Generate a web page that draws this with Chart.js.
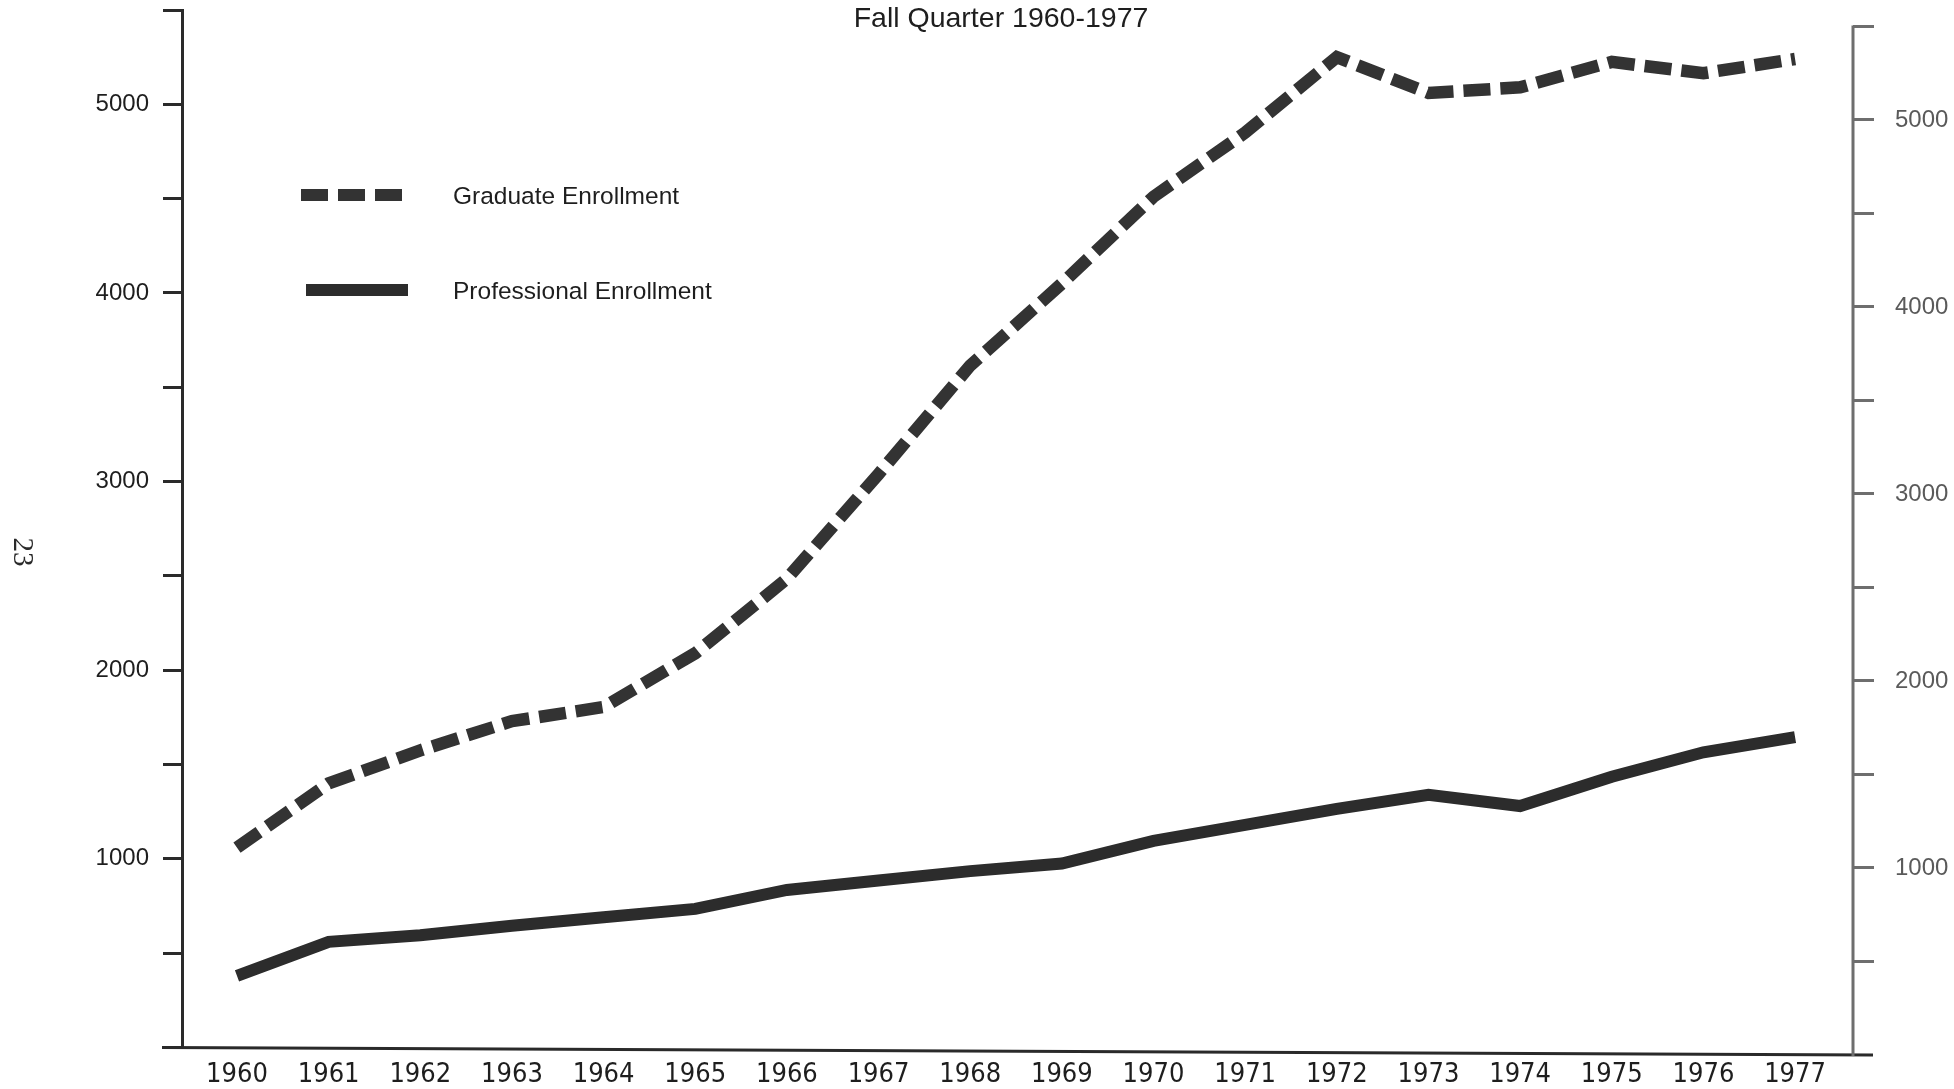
<!DOCTYPE html>
<html>
<head>
<meta charset="utf-8">
<script src="https://cdn.jsdelivr.net/npm/chart.js@4.4.1/dist/chart.umd.min.js"></script>
<style>
html,body{margin:0;padding:0;background:#fff;}
#wrap{position:relative;width:1954px;height:1089px;}
canvas{display:block;}
</style>
</head>
<body>
<div id="wrap"><canvas id="c" width="1954" height="1089"></canvas></div>
<script>
// ---- data ----
const years = [1960,1961,1962,1963,1964,1965,1966,1967,1968,1969,1970,1971,1972,1973,1974,1975,1976,1977];
const yearLabels = ['1960','1961','1962','1963','1964','1965','1966','1967','1968','1969','1970','1971','1972','1973','1974','1975','1976','1977'];
const graduateEnrollment = [1060,1400,1575,1730,1805,2090,2485,3040,3615,4050,4510,4850,5250,5060,5090,5225,5165,5240];
const professionalEnrollment = [380,560,595,645,690,735,835,885,935,975,1095,1180,1265,1340,1280,1435,1565,1645];
const seriesNames = ['Graduate Enrollment','Professional Enrollment'];
const leftTickValues = [0,500,1000,1500,2000,2500,3000,3500,4000,4500,5000,5500];
const leftTickLabels = ['','','1000','','2000','','3000','','4000','','5000',''];
const rightTickValues = [500,1000,1500,2000,2500,3000,3500,4000,4500,5000,5500];
const rightTickLabels = ['','1000','','2000','','3000','','4000','','5000',''];
const chartTitle = 'Fall Quarter 1960-1977';
const pageNumber = '23';

const SANS = "'Liberation Sans', Arial, sans-serif";
const NARROW = "'Liberation Sans Narrow', 'DejaVu Sans Condensed', 'Liberation Sans', sans-serif";

const zeroPad = s => { s.paddingTop = 0; s.paddingBottom = 0; s.paddingLeft = 0; s.paddingRight = 0; };

const decor = {
  id: 'decor',
  afterDraw(chart) {
    const ctx = chart.ctx;
    const ca = chart.chartArea;
    const yL = chart.scales.y, yR = chart.scales.y2;
    ctx.save();
    // bottom axis line (slightly skewed like the scan)
    ctx.strokeStyle = '#2a2a2a';
    ctx.lineWidth = 3;
    ctx.beginPath();
    ctx.moveTo(ca.left - 20, yL.getPixelForValue(0));
    ctx.lineTo(ca.right + 20, yR.getPixelForValue(0));
    ctx.stroke();
    // right axis line
    ctx.strokeStyle = '#6e6e6e';
    ctx.beginPath();
    ctx.moveTo(ca.right, yR.getPixelForValue(5500) - 1);
    ctx.lineTo(ca.right, yR.getPixelForValue(0) + 1);
    ctx.stroke();
    // title
    ctx.fillStyle = '#1e1e1e';
    ctx.font = "28.5px " + SANS;
    ctx.textAlign = 'center';
    ctx.textBaseline = 'middle';
    ctx.fillText(chartTitle, 1001, 19);
    // legend
    const ds = chart.data.datasets;
    const rows = [{y:195, x0:301, x1:405}, {y:290, x0:306, x1:408}];
    rows.forEach((r, i) => {
      ctx.save();
      ctx.strokeStyle = ds[i].borderColor;
      ctx.lineWidth = 12;
      ctx.lineCap = 'butt';
      ctx.setLineDash(ds[i].borderDash || []);
      ctx.beginPath();
      ctx.moveTo(r.x0, r.y);
      ctx.lineTo(r.x1, r.y);
      ctx.stroke();
      ctx.restore();
      ctx.fillStyle = '#1e1e1e';
      ctx.font = "24.5px " + SANS;
      ctx.textAlign = 'left';
      ctx.textBaseline = 'middle';
      ctx.fillText(ds[i].label, 453, r.y + 2);
    });
    // page number, rotated
    ctx.save();
    ctx.translate(22, 552);
    ctx.rotate(Math.PI / 2);
    ctx.fillStyle = '#2a2a2a';
    ctx.font = "29px 'Liberation Serif', serif";
    ctx.textAlign = 'center';
    ctx.textBaseline = 'middle';
    ctx.fillText(pageNumber, 0, 0);
    ctx.restore();
    ctx.restore();
  }
};

new Chart(document.getElementById('c').getContext('2d'), {
  type: 'line',
  data: {
    datasets: [
      {
        label: seriesNames[0],
        data: years.map((yr, i) => ({x: yr, y: graduateEnrollment[i]})),
        borderColor: '#333333',
        borderWidth: 12.5,
        borderDash: [27, 10],
        borderCapStyle: 'butt',
        borderJoinStyle: 'miter',
        pointRadius: 0,
        tension: 0,
        fill: false,
        yAxisID: 'y'
      },
      {
        label: seriesNames[1],
        data: years.map((yr, i) => ({x: yr, y: professionalEnrollment[i]})),
        borderColor: '#2c2c2c',
        borderWidth: 12,
        borderCapStyle: 'butt',
        borderJoinStyle: 'miter',
        pointRadius: 0,
        tension: 0,
        fill: false,
        yAxisID: 'y'
      }
    ]
  },
  options: {
    responsive: false,
    animation: false,
    devicePixelRatio: 1,
    layout: {padding: {top: 10, left: 0, right: 0, bottom: 0}},
    plugins: {legend: {display: false}, title: {display: false}, tooltip: {enabled: false}},
    scales: {
      x: {
        type: 'linear',
        min: 1959.4,
        max: 1977.632,
        afterBuildTicks: s => { s.ticks = years.map(v => ({value: v})); },
        afterFit: s => { s.height = 41.5; zeroPad(s); },
        ticks: {
          autoSkip: false, maxRotation: 0,
          callback: v => { const k = years.indexOf(v); return k >= 0 ? yearLabels[k] : ''; },
          font: {family: NARROW, size: 27},
          color: '#1e1e1e',
          padding: 11
        },
        grid: {display: false, drawTicks: false},
        border: {display: false}
      },
      y: {
        type: 'linear',
        position: 'left',
        min: 0,
        max: 5500,
        afterBuildTicks: s => { s.ticks = leftTickValues.map(v => ({value: v})); },
        afterFit: s => { s.width = 182; zeroPad(s); },
        ticks: {
          autoSkip: false,
          callback: v => { const k = leftTickValues.indexOf(v); return k >= 0 ? leftTickLabels[k] : ''; },
          font: {family: SANS, size: 24},
          color: '#1e1e1e',
          padding: 14
        },
        grid: {drawOnChartArea: false, tickLength: 19, color: '#2a2a2a', lineWidth: 3},
        border: {color: '#2a2a2a', width: 3}
      },
      y2: {
        type: 'linear',
        position: 'right',
        min: 40,
        max: 5588,
        afterBuildTicks: s => { s.ticks = rightTickValues.map(v => ({value: v})); },
        afterFit: s => { s.width = 101; zeroPad(s); },
        ticks: {
          autoSkip: false,
          callback: v => { const k = rightTickValues.indexOf(v); return k >= 0 ? rightTickLabels[k] : ''; },
          font: {family: SANS, size: 24},
          color: '#5a5a5a',
          padding: 21
        },
        grid: {drawOnChartArea: false, tickLength: 21, color: '#6e6e6e', lineWidth: 3},
        border: {display: false}
      }
    }
  },
  plugins: [decor]
});
</script>
</body>
</html>
